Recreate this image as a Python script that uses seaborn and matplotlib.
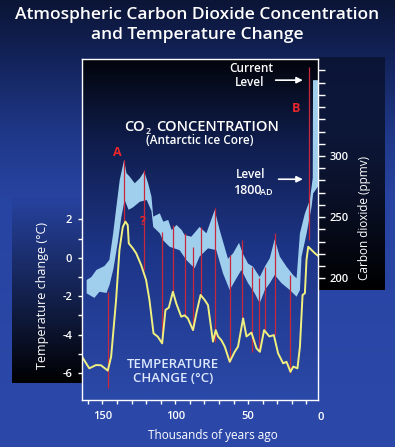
import numpy as np
import matplotlib
matplotlib.use("Agg")
import matplotlib.pyplot as plt
from matplotlib.colors import LinearSegmentedColormap
import seaborn as sns

# Temperature change record (thousands of years ago, deg C)
temp_age = [164.7, 159, 154.4, 151, 146.3, 144, 140.6, 138.3, 136, 134.2, 132.6,
            131.9, 129.1, 126.8, 123.4, 120, 117.7, 114.9, 112, 109, 106.7, 104.4,
            101.6, 99.3, 95.9, 93.6, 91.3, 87.8, 85.5, 82.6, 79.8, 77.5, 74.1, 72.2,
            70.6, 68.3, 66, 62.6, 59.2, 56.9, 53.4, 51.1, 47.7, 44.2, 41.9, 39,
            35.4, 32.3, 29.4, 25.9, 23.6, 20.9, 19, 16.1, 14.4, 12.6, 11, 9.9, 8.7,
            6.4, 4.1, 1.8]
temp_change = [-5.07, -5.76, -5.59, -5.6, -5.88, -5.15, -2.2, 0.4, 1.6, 1.88, 1.7,
               0.75, 0.49, 0.23, -0.38, -1.16, -2.2, -3.94, -4.11, -4.46, -2.72, -2.6,
               -1.77, -2.38, -3.07, -3.0, -3.16, -3.77, -2.9, -1.94, -2.2, -2.47, -4.37, -3.77,
               -4.1, -4.3, -4.63, -5.42, -4.9, -4.63, -3.16, -4.1, -3.9, -4.72, -4.9, -3.77,
               -4.1, -4.03, -4.98, -5.5, -5.42, -5.94, -5.67, -5.76, -4.63, -1.94, -1.85, -0.12, 0.57,
               0.4, 0.23, 0.09]

# CO2 concentration band (ppmv), upper and lower edge
co2_age_high = [160.8, 157.6, 154.1, 148.6, 145.2, 142.6, 140.4, 138.1, 135.1, 133.5,
                131.2, 127.8, 124.3, 121.3, 118.6, 116.3, 115.1, 110.6, 108.2, 104.8,
                102.5, 99.1, 95.6, 93.6, 89, 83.3, 78.6, 72.9, 69.5, 63.8, 60.3, 56.2,
                53.7, 50, 46.6, 42, 38.5, 35.1, 31.7, 28.2, 23.6, 19.1, 16.7, 14.4, 11,
                7.6, 5.6, 5.4, 2]
co2_high = [198.6, 201, 206.8, 210, 215, 236.8, 258.5, 280.4, 296.7, 286,
            283, 277.7, 281.8, 287.2, 277.7, 266.7, 250.4, 253.1, 246.3, 247.7,
            239.5, 243.6, 239.5, 235.4, 234, 242, 236.8, 255.8, 239.5, 216, 220.4, 229,
            220.4, 212, 209.5, 201, 209.5, 216.4, 232, 217.7, 209.5, 202.7, 200, 236.8, 253,
            264, 282, 362, 362]
co2_age_low = [160.8, 155.5, 152, 147.2, 145, 142.4, 139.2, 137, 134.7, 132, 129,
               124.3, 119.6, 116.3, 115.1, 110.6, 108.5, 103.9, 97, 92.4, 86.7, 83.3,
               77.5, 71.8, 67.2, 62.6, 58, 54.6, 50, 45.4, 42, 38.5, 35.1, 31.7, 27,
               21.3, 16.7, 14.4, 13.3, 9.8, 6.4, 5.3, 2]
co2_low = [187.7, 184, 189, 188, 195, 208, 231, 250, 264, 256, 258,
           262.6, 264, 255, 242, 236.8, 231.3, 225.8, 223, 215, 208.2, 217.7,
           224.5, 223, 204, 190.4, 200, 206.8, 196, 187.7, 179.6, 190.4, 196, 202.7, 196,
           190.4, 185, 190.4, 217.7, 236.8, 258.5, 269.5, 275]

# Red links between CO2 and temperature peaks (age, top, bottom in deg C)
event_age = [146.3, 134.9, 121.1, 109, 101.6, 93.6, 87.9, 82.6, 72.9, 62.6,
             54.1, 47, 42.5, 38.5, 31.7, 20.9, 8.1]
event_top = [-1.79, 5.09, 4.57, 1.35, 1.70, 1.29, 0.57, 1.61, 2.57, 0.14,
             0.92, -0.47, -1.07, -0.47, 1.27, -0.9, 9.95]
event_bottom = [-6.79, 1.88, -0.64, -4.46, -1.77, -3.07, -3.77, -2.03, -4.37, -5.42,
                -3.16, -4.9, -4.8, -3.77, -4.03, -6.0, 0.92]

age_ticks = list(range(10, 161, 10))
age_labels = {150: "150", 100: "100", 50: "50"}
temp_ticks = list(range(-6, 3))
temp_labels = {2: "2", 0: "0", -2: "-2", -4: "-4", -6: "-6"}
co2_ticks = list(range(200, 371, 10))
co2_labels = {200: "200", 250: "250", 300: "300"}

sns.set_style("dark")
plt.rcParams["font.family"] = ["Open Sans", "DejaVu Sans"]

W, H = 395, 447
fig = plt.figure(figsize=(W / 100, H / 100), dpi=100)


def fx(x):
    return x / W


def fy(y):
    return 1 - y / H


def grad(colors):
    return LinearSegmentedColormap.from_list("g", colors)


ramp = np.linspace(0, 1, 256)[:, None]


def shade(a0, a1):
    # black overlay whose opacity grows downwards
    img = np.zeros((256, 1, 4))
    img[:, 0, 3] = np.linspace(a0, a1, 256)
    return img


# backgrounds
bg = fig.add_axes([0, 0, 1, 1], zorder=-10)
bg.imshow(ramp, cmap=grad([(0, "#0b1536"), (0.13, "#13235a"), (0.3, "#1f3888"),
                           (0.45, "#2844a2"), (1, "#2c49aa")]),
          extent=(0, W, H, 0), aspect="auto")
bg.imshow(shade(0.0, 1.0), extent=(12, 82, 383, 195), aspect="auto")
bg.imshow(shade(0.4, 1.0), extent=(318, 385, 290, 57), aspect="auto")
bg.imshow(ramp, cmap=grad([(0, "#03050c"), (0.24, "#0f1d4c"), (0.56, "#1d3587"), (1, "#2b49a8")]),
          extent=(82, 318, 400, 59), aspect="auto")
bg.set_xlim(0, W)
bg.set_ylim(H, 0)
bg.axis("off")

ax = fig.add_axes([fx(82), 1 - 400 / H, 236 / W, 341 / H])
ax2 = ax.twinx()
ax.set_zorder(2)
ax2.set_zorder(1)
ax.patch.set_visible(False)
ax2.patch.set_visible(False)

# CO2 band
band_x = np.r_[co2_age_high, co2_age_low[::-1]]
band_y = np.r_[co2_high, co2_low[::-1]]
ax2.fill(band_x, band_y, color="#a0cfee", lw=0)

# red links and temperature
ax.vlines(event_age, event_bottom, event_top, color="#c8283c", lw=0.9)
sns.lineplot(x=temp_age, y=temp_change, ax=ax, color="#f0f080", lw=1.4,
             sort=False, estimator=None)

ax.set_xlim(164, 2)
ax.set_ylim(-7.41, 10.35)
ax2.set_ylim(100.5, 379.3)

ax.set_xticks(age_ticks)
ax.set_xticklabels([age_labels.get(t, "") for t in age_ticks])
ax.set_yticks(temp_ticks)
ax.set_yticklabels([temp_labels.get(t, "") for t in temp_ticks])
ax2.set_yticks(co2_ticks)
ax2.set_yticklabels([co2_labels.get(t, "") for t in co2_ticks])

ax.tick_params(axis="x", direction="out", length=3, width=1, color="white",
               labelcolor="white", labelsize=8, pad=5, bottom=True)
ax.tick_params(axis="y", direction="out", length=3, width=1, color="white",
               labelcolor="white", labelsize=8, pad=4, left=True)
ax2.tick_params(axis="y", direction="out", length=5, width=1, color="white",
                labelcolor="white", labelsize=8, pad=3.5, right=True)
for lab in ax.get_xticklabels() + ax.get_yticklabels() + ax2.get_yticklabels():
    lab.set_fontweight("semibold")

for s in ax.spines.values():
    s.set_color("white")
    s.set_linewidth(1)
    s.set_visible(True)
for s in ax2.spines.values():
    s.set_visible(False)
ax.grid(False)
ax2.grid(False)

ax.set_xlabel("Thousands of years ago", color="white", fontsize=8.5, va="center")
ax.xaxis.set_label_coords(0.555, -0.103)
ax.set_ylabel("Temperature change (°C)", color="white", fontsize=9, va="center")
ax.yaxis.set_label_coords(-0.169, 0.305)
ax2.set_ylabel("Carbon dioxide (ppmv)", color="white", fontsize=8.5, va="center", rotation=90)
ax2.yaxis.set_label_coords(1.199, 0.534)

# x label at 0 sits just outside the frame
fig.text(fx(321), fy(417), "0", color="white", fontsize=8, fontweight="semibold",
         ha="center", va="center")

# title
fig.text(fx(197), fy(15), "Atmospheric Carbon Dioxide Concentration", color="white",
         fontsize=12.5, fontweight="semibold", ha="center", va="center")
fig.text(fx(197), fy(35), "and Temperature Change", color="white",
         fontsize=12.5, fontweight="semibold", ha="center", va="center")

# annotations
fig.text(fx(145), fy(127), "CO", color="white", fontsize=10.5,
         fontweight="semibold", ha="right", va="center")
fig.text(fx(148), fy(131), "2", color="white", fontsize=6.5,
         fontweight="semibold", ha="center", va="center")
fig.text(fx(156), fy(127), "CONCENTRATION", color="white", fontsize=10.5,
         fontweight="semibold", ha="left", va="center")
fig.text(fx(200), fy(141), "(Antarctic Ice Core)", color="white", fontsize=8.5,
         fontweight="semibold", ha="center", va="center")
fig.text(fx(117), fy(152), "A", color="#e8262c", fontsize=9, fontweight="bold",
         ha="center", va="center")
fig.text(fx(296), fy(108), "B", color="#e8262c", fontsize=9, fontweight="bold",
         ha="center", va="center")
fig.text(fx(143), fy(222), "?", color="#e8262c", fontsize=9, fontweight="bold",
         ha="center", va="center")
fig.text(fx(251), fy(68), "Current", color="white", fontsize=8.5, fontweight="semibold",
         ha="center", va="center")
fig.text(fx(250), fy(82), "Level", color="white", fontsize=8.5, fontweight="semibold",
         ha="center", va="center")
fig.text(fx(251), fy(174), "Level", color="white", fontsize=8.5, fontweight="semibold",
         ha="center", va="center")
fig.text(fx(247), fy(191), "1800", color="white", fontsize=9, fontweight="semibold",
         ha="center", va="center")
fig.text(fx(266), fy(192), "AD", color="white", fontsize=6.5, fontweight="semibold",
         ha="center", va="center")
fig.text(fx(173), fy(364), "TEMPERATURE", color="#dde8ff", fontsize=9.5,
         fontweight="semibold", ha="center", va="center")
fig.text(fx(173), fy(379), "CHANGE (°C)", color="#dde8ff", fontsize=9.5,
         fontweight="semibold", ha="center", va="center")

arrow = dict(arrowstyle="-|>", color="white", lw=1.2, mutation_scale=9)
ax2.annotate("", xy=(10.5, 362), xytext=(33, 362), arrowprops=arrow)
ax2.annotate("", xy=(10.5, 281), xytext=(31, 281), arrowprops=arrow)

fig.savefig("out.png", dpi=100)
